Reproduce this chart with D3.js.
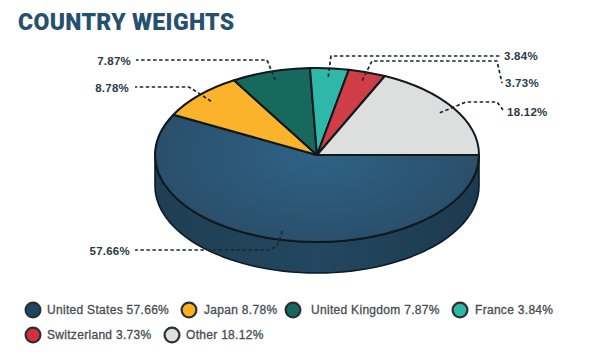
<!DOCTYPE html>
<html>
<head>
<meta charset="utf-8">
<script src="https://cdn.jsdelivr.net/npm/d3@7"></script>
<style>
  html, body { margin: 0; padding: 0; background: #fff; }
  text { font-family: "Liberation Sans", Arial, sans-serif; }
</style>
</head>
<body>
<div id="chart"></div>
<script>
const countries = ["United States", "Japan", "United Kingdom", "France", "Switzerland", "Other"];
const weights = [57.66, 8.78, 7.87, 3.84, 3.73, 18.12];
const colors = ["#2d5877", "#fbb32c", "#16695c", "#2fb8aa", "#cf3d47", "#dddfde"];
const legendColors = ["#1f4560", "#fbb01f", "#16695c", "#2db8a6", "#d32f3c", "#dedede"];

const width = 600, height = 360;
const cx = 317, cy = 155, rx = 162, ry = 87, depth = 31;
const squash = ry / rx;

// elbows and label spots for the leader lines, same order as countries
const leaders = [
    { elbow: [[277, 246], [270, 250], [135, 250]], label: [130, 251], anchor: "end" },
    { elbow: [[189, 87], [135, 87]], label: [129, 88], anchor: "end" },
    { elbow: [[267, 60], [136, 60]], label: [131, 61], anchor: "end" },
    { elbow: [[331, 56], [500, 56]], label: [504, 56], anchor: "start" },
    { elbow: [[372, 61], [497, 61], [502, 83]], label: [505, 83], anchor: "start" },
    { elbow: [[466, 102], [497, 102], [503, 110]], label: [507, 112], anchor: "start" }
];
const legendSpots = [[33, 310, 47], [189, 310, 204], [293, 310, 311], [460, 310, 475], [33, 335, 47], [172, 335, 186]];

const svg = d3.select("#chart").append("svg")
    .attr("width", width)
    .attr("height", height)
    .style("display", "block");

const defs = svg.append("defs");
const topGrad = defs.append("radialGradient").attr("id", "usTop")
    .attr("gradientUnits", "userSpaceOnUse")
    .attr("cx", 0).attr("cy", 0).attr("r", rx);
topGrad.append("stop").attr("offset", "0%").attr("stop-color", "#2f6286");
topGrad.append("stop").attr("offset", "100%").attr("stop-color", "#2a4f6b");

const sideGrad = defs.append("linearGradient").attr("id", "usSide")
    .attr("x1", "0%").attr("x2", "100%").attr("y1", "0%").attr("y2", "0%");
sideGrad.append("stop").attr("offset", "0%").attr("stop-color", "#1e3e54");
sideGrad.append("stop").attr("offset", "50%").attr("stop-color", "#234760");
sideGrad.append("stop").attr("offset", "100%").attr("stop-color", "#1c3a4f");

// title
svg.append("text")
    .attr("x", 18)
    .attr("y", 30)
    .attr("fill", "#26506e")
    .style("font-family", "Roboto, sans-serif")
    .style("font-weight", 900)
    .style("font-size", "23px")
    .style("letter-spacing", "0.35px")
    .text("COUNTRY WEIGHTS");

const pie = d3.pie()
    .sort(null)
    .startAngle(Math.PI / 2)
    .endAngle(Math.PI / 2 + 2 * Math.PI);
const slices = pie(weights);

const arc = d3.arc().innerRadius(0).outerRadius(rx);
const inner = d3.arc().innerRadius(rx * 0.9).outerRadius(rx * 0.9);

// side wall, only the part of each slice facing the viewer
const wallLine = d3.line();
function wallPath(d) {
    const a0 = Math.max(d.startAngle, Math.PI / 2);
    const a1 = Math.min(d.endAngle, Math.PI * 1.5);
    if (a1 <= a0) return null;
    const steps = d3.range(0, 61).map(function(i) { return a0 + (a1 - a0) * i / 60; });
    const top = steps.map(function(a) { return [rx * Math.sin(a), -ry * Math.cos(a)]; });
    const bottom = steps.slice().reverse().map(function(a) { return [rx * Math.sin(a), -ry * Math.cos(a) + depth]; });
    return wallLine(top.concat(bottom)) + "Z";
}

const pieG = svg.append("g").attr("transform", "translate(" + cx + "," + cy + ")");

pieG.selectAll("path.wall")
    .data(slices)
    .enter().append("path")
    .attr("class", "wall")
    .attr("d", wallPath)
    .attr("fill", "url(#usSide)")
    .attr("stroke", "#0e1a22")
    .attr("stroke-width", 1.6)
    .attr("stroke-linejoin", "round");

const topG = pieG.append("g").attr("transform", "scale(1," + squash + ")");
topG.selectAll("path.slice")
    .data(slices)
    .enter().append("path")
    .attr("class", "slice")
    .attr("d", arc)
    .attr("fill", function(d, i) { return i === 0 ? "url(#usTop)" : colors[i]; })
    .attr("stroke", "#10181c")
    .attr("stroke-width", 2)
    .attr("stroke-linejoin", "round")
    .attr("vector-effect", "non-scaling-stroke");

// leader lines start inside the slice
const leaderLine = d3.line();
const leaderG = svg.append("g");
slices.forEach(function(d, i) {
    const c = inner.centroid(d);
    const start = [cx + c[0], cy + c[1] * squash];
    leaderG.append("path")
        .attr("d", leaderLine([start].concat(leaders[i].elbow)))
        .attr("fill", "none")
        .attr("stroke", "#1f272d")
        .attr("stroke-width", 1.7)
        .attr("stroke-dasharray", "3.5,2.5");
    leaderG.append("text")
        .attr("x", leaders[i].label[0])
        .attr("y", leaders[i].label[1])
        .attr("dy", "0.35em")
        .attr("text-anchor", leaders[i].anchor)
        .attr("fill", "#2b3a46")
        .style("font-size", "11.5px")
        .style("font-weight", "bold")
        .style("letter-spacing", "0.25px")
        .text(d3.format(".2f")(weights[i]) + "%");
});

// legend
const legend = svg.append("g").selectAll("g")
    .data(countries)
    .enter().append("g");
legend.append("circle")
    .attr("cx", function(d, i) { return legendSpots[i][0]; })
    .attr("cy", function(d, i) { return legendSpots[i][1]; })
    .attr("r", 7.4)
    .attr("fill", function(d, i) { return legendColors[i]; })
    .attr("stroke", "#2b2f33")
    .attr("stroke-width", 2.2);
legend.append("text")
    .attr("x", function(d, i) { return legendSpots[i][2]; })
    .attr("y", function(d, i) { return legendSpots[i][1]; })
    .attr("dy", "0.35em")
    .attr("fill", "#474c52")
    .style("font-size", "12px")
    .style("letter-spacing", "0.3px")
    .style("stroke", "#474c52")
    .style("stroke-width", 0.3)
    .text(function(d, i) { return d + " " + d3.format(".2f")(weights[i]) + "%"; });
</script>
</body>
</html>
